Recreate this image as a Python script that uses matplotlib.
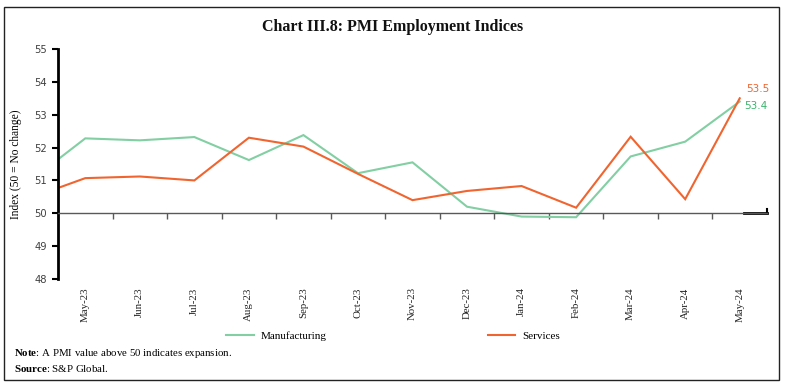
import matplotlib
matplotlib.use("Agg")
import matplotlib.pyplot as plt
from matplotlib.patches import Rectangle
import matplotlib.transforms as mtransforms

plt.rcParams["mathtext.fontset"] = "custom"
plt.rcParams["mathtext.rm"] = "Liberation Serif"
plt.rcParams["mathtext.bf"] = "Liberation Serif:bold"

months = ["Apr-23", "May-23", "Jun-23", "Jul-23", "Aug-23", "Sep-23", "Oct-23", "Nov-23",
          "Dec-23", "Jan-24", "Feb-24", "Mar-24", "Apr-24", "May-24"]
manufacturing = [51.0, 52.28, 52.22, 52.32, 51.62, 52.38, 51.22, 51.55,
                 50.2, 49.9, 49.88, 51.73, 52.18, 53.4]
services = [50.47, 51.07, 51.12, 51.0, 52.3, 52.03, 51.2, 50.4,
            50.68, 50.83, 50.17, 52.33, 50.43, 53.5]
y_ticks = [48, 49, 50, 51, 52, 53, 54, 55]

GREEN = "#82CFA3"
ORANGE = "#F0652F"
serif = ["Liberation Serif", "DejaVu Serif"]

fig = plt.figure(figsize=(7.86, 3.9), dpi=100)
ax = fig.add_axes([58/786, 1-279/390, (767-58)/786, (279-49)/390])

x = list(range(len(months)))
ax.plot(x, manufacturing, color=GREEN, lw=1.5, label="Manufacturing", solid_joinstyle="miter")
ax.plot(x, services, color=ORANGE, lw=1.5, label="Services", solid_joinstyle="miter")

ax.set_xlim(0.5, len(months) - 0.5)
ax.set_ylim(48, 55)
ax.set_yticks(y_ticks)
ax.tick_params(axis="y", length=4, width=1.5, color="black", labelsize=7.2,
               labelcolor="#404040", pad=4)
for t in ax.get_yticklabels():
    t.set_family("DejaVu Sans")

for s in ["top", "right"]:
    ax.spines[s].set_visible(False)
ax.spines["left"].set_linewidth(2)
ax.spines["left"].set_color("black")
ax.spines["bottom"].set_position(("data", 50))
ax.spines["bottom"].set_color("#595959")
ax.spines["bottom"].set_linewidth(1)
ax.set_xticks([i + 0.5 for i in range(len(months) - 1)])
ax.set_xticklabels([])
ax.tick_params(axis="x", length=4, width=1, color="#595959", direction="out")

# category labels at the bottom of the axes
sec = ax.secondary_xaxis(0.0)
sec.set_xticks(x[1:])
sec.set_xticklabels(months[1:], rotation=90, fontsize=7.8, family=serif, color="#222222")
sec.tick_params(length=0, pad=6)
sec.spines["bottom"].set_visible(False)

# dark end segment of the x axis
trans = mtransforms.blended_transform_factory(ax.transAxes, ax.transData)
ax.plot([0.967, 1.0], [50, 50], color="black", lw=2, transform=trans, clip_on=False)
ax.plot([1.0, 1.0], [50, 50.12], color="black", lw=1.5, transform=trans, clip_on=False)

ax.set_ylabel("Index (50 = No change)", fontsize=8.3, family=serif, labelpad=9)

# end labels
ax.annotate(f"{services[-1]:.1f}", (x[-1], services[-1]), xytext=(5, 7),
            textcoords="offset points", color=ORANGE, fontsize=7.5, family="DejaVu Sans",
            va="center", ha="left")
ax.annotate(f"{manufacturing[-1]:.1f}", (x[-1], manufacturing[-1]), xytext=(3, -3),
            textcoords="offset points", color="#3DB36E", fontsize=7.5, family="DejaVu Sans",
            va="center", ha="left")

fig.legend(loc="center", bbox_to_anchor=(0.5, 1 - 336/390), ncol=2, frameon=False,
           prop={"family": serif, "size": 8}, handlelength=2.5, columnspacing=14.5,
           handletextpad=0.6)

fig.text(0.5, 1 - 27/390, "Chart III.8: PMI Employment Indices", ha="center", va="center",
         fontsize=11.5, family=serif, fontweight="bold", color="#111111")

fig.text(14/786, 1 - 353/390, r"$\mathbf{Note}$: A PMI value above 50 indicates expansion.",
         fontsize=7.8, family=serif, va="center")
fig.text(14/786, 1 - 369/390, r"$\mathbf{Source}$: S&P Global.", fontsize=7.8, family=serif,
         va="center")

fig.patches.append(Rectangle((4/786, 10/390), 775/786, 373/390, transform=fig.transFigure,
                             fill=False, edgecolor="#222222", lw=1))

fig.savefig("out.png", dpi=100)
